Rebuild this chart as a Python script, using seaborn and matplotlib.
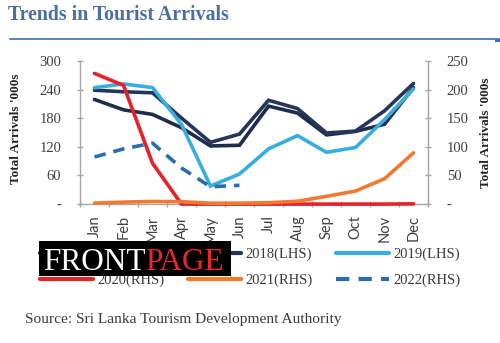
import matplotlib
matplotlib.use("Agg")
import matplotlib.pyplot as plt
from matplotlib.patches import Rectangle
from matplotlib.lines import Line2D
import numpy as np
import pandas as pd
import seaborn as sns

# Monthly tourist arrivals, thousands
months = ["Jan", "Feb", "Mar", "Apr", "May", "Jun",
          "Jul", "Aug", "Sep", "Oct", "Nov", "Dec"]
arr_2017 = [219.4, 197.7, 188.1, 160.2, 121.9, 123.4, 205.5, 190.9, 145.1, 152.4, 167.5, 244.5]
arr_2018 = [238.9, 235.6, 233.4, 180.4, 129.5, 146.8, 217.8, 200.4, 149.1, 153.1, 195.6, 253.2]
arr_2019 = [244.2, 252.0, 244.3, 167.0, 37.8, 63.1, 115.7, 143.6, 108.6, 118.7, 177.0, 241.7]
arr_2020 = [228.4, 207.5, 71.4, 0.0, 0.0, 0.0, 0.0, 0.0, 0.0, 0.0, 0.0, 0.4]
arr_2021 = [1.7, 3.4, 4.6, 4.2, 1.5, 1.6, 2.4, 5.0, 13.5, 22.8, 44.3, 89.5]
arr_2022 = [82.3, 96.5, 106.5, 63.0, 30.2, 32.9]

left_ticks = [0, 60, 120, 180, 240, 300]
left_tick_labels = ["-", "60", "120", "180", "240", "300"]
right_ticks = [0, 50, 100, 150, 200, 250]
right_tick_labels = ["-", "50", "100", "150", "200", "250"]

sns.set_theme(style="white")
plt.rcParams["font.family"] = ["Liberation Serif", "DejaVu Serif"]

SERIF = "Liberation Serif"
TXT = "#404040"

fig = plt.figure(figsize=(5.0, 3.43), dpi=100)
ax = fig.add_axes([0.16, 0.405, 0.696, 0.417])
ax2 = ax.twinx()

def frame(values):
    return pd.DataFrame({"pos": np.arange(len(values)), "val": values})

styles = {
    "2017(LHS)": dict(color="#1f2d4c", ls="-"),
    "2018(LHS)": dict(color="#25365a", ls="-"),
    "2019(LHS)": dict(color="#38ade0", ls="-"),
    "2020(RHS)": dict(color="#e5212a", ls="-"),
    "2021(RHS)": dict(color="#ef7a30", ls="-"),
    "2022(RHS)": dict(color="#2a6cb0", ls=(0, (3.2, 2.2))),
}
LW = 2.6

series_left = [("2017(LHS)", arr_2017), ("2018(LHS)", arr_2018), ("2019(LHS)", arr_2019)]
series_right = [("2020(RHS)", arr_2020), ("2021(RHS)", arr_2021), ("2022(RHS)", arr_2022)]

for name, vals in series_left:
    sns.lineplot(data=frame(vals), x="pos", y="val", ax=ax, color=styles[name]["color"],
                 linewidth=LW, linestyle=styles[name]["ls"], legend=False)
for name, vals in series_right:
    sns.lineplot(data=frame(vals), x="pos", y="val", ax=ax2, color=styles[name]["color"],
                 linewidth=LW, linestyle=styles[name]["ls"], legend=False)

for a in (ax, ax2):
    for ln in a.lines:
        ln.set_clip_on(False)
        ln.set_solid_joinstyle("miter")
    a.set_xlim(-0.5, 11.5)
    a.set_xlabel("")
    a.set_ylabel("")
    a.grid(False)
    for side in ("left", "right", "bottom", "top"):
        a.spines[side].set_visible(False)

ax.set_ylim(0, 300)
ax2.set_ylim(0, 250)

spine_col = "#a6a6a6"
ax.spines["left"].set_visible(True)
ax.spines["bottom"].set_visible(True)
ax2.spines["right"].set_visible(True)
for sp in (ax.spines["left"], ax.spines["bottom"], ax2.spines["right"]):
    sp.set_color(spine_col)
    sp.set_linewidth(1.0)

# x axis: labels at category centres, tick marks at category boundaries
ax.set_xticks(np.arange(12))
ax.set_xticklabels(months, rotation=90, fontsize=10.5, family="Lato", color=TXT)
ax.set_xticks(np.arange(-0.5, 12, 1), minor=True)
ax.tick_params(axis="x", which="major", length=0, pad=8)
ax.tick_params(axis="x", which="minor", length=5, width=1, color=spine_col,
               direction="inout", bottom=True)

ax.set_yticks(left_ticks)
ax.set_yticklabels(left_tick_labels, fontsize=10.5, family=SERIF, color=TXT)
ax.tick_params(axis="y", length=5, width=1, color=spine_col, direction="inout",
               left=True, pad=11)
ax2.set_yticks(right_ticks)
ax2.set_yticklabels(right_tick_labels, fontsize=10.5, family=SERIF, color=TXT)
ax2.tick_params(axis="y", length=5, width=1, color=spine_col, direction="inout",
                right=True, pad=11)

ax.set_ylabel("Total Arrivals '000s", fontsize=9.5, family=SERIF, fontweight="bold", color="#222222")
ax.yaxis.set_label_coords(-0.167, 0.53)
ax2.set_ylabel("Total Arrivals '000s", fontsize=9.5, family=SERIF, fontweight="bold",
               color="#222222", rotation=90)
ax2.yaxis.set_label_coords(1.15, 0.50)

# title and rule
fig.text(0.016, 1 - 20 / 343, "Trends in Tourist Arrivals", family=SERIF, fontweight="bold",
         fontsize=14.3, color="#4b6fa3", va="baseline", ha="left")
fig.add_artist(Line2D([0.02, 1.0], [1 - 39 / 343, 1 - 39 / 343], transform=fig.transFigure,
                      color="#4a76c0", lw=1.3))
fig.add_artist(Rectangle((0.99, 1 - 42 / 343), 0.01, 3 / 343, transform=fig.transFigure,
                         color="#3e6cb8", lw=0))

# legend, row-major order across three columns
order = ["2017(LHS)", "2020(RHS)", "2018(LHS)", "2021(RHS)", "2019(LHS)", "2022(RHS)"]
handles = [Line2D([], [], color=styles[n]["color"], lw=3.0, linestyle=styles[n]["ls"]) for n in order]
leg = fig.legend(handles, order, ncol=3, loc="upper left", bbox_to_anchor=(40 / 500, 1 - 248 / 343),
                 frameon=False, borderpad=0, borderaxespad=0, handlelength=3.6,
                 handletextpad=0.35, columnspacing=1.6, labelspacing=0.85,
                 prop={"family": SERIF, "size": 10.5})
for t in leg.get_texts():
    t.set_color("#3a3a3a")

# publication badge
fig.add_artist(Rectangle((39 / 500, 1 - 276 / 343), 192 / 500, 35 / 343, transform=fig.transFigure,
                         facecolor="black", edgecolor="none", zorder=10))
t1 = fig.text(43 / 500, 1 - 270 / 343, "FRONT", family=SERIF, fontsize=22.5, color="white",
              va="baseline", ha="left", zorder=11)
fig.canvas.draw()
bb = t1.get_window_extent(fig.canvas.get_renderer())
x_end = fig.transFigure.inverted().transform((bb.x1, bb.y0))[0]
fig.text(x_end, 1 - 270 / 343, "PAGE", family=SERIF, fontsize=22.5, color="#e8262e",
         va="baseline", ha="left", zorder=11)

fig.text(25 / 500, 1 - 319 / 343, "Source: Sri Lanka Tourism Development Authority",
         family=SERIF, fontsize=11.1, color="#3a3a3a", va="center", ha="left")

fig.savefig("out.png", dpi=100)
